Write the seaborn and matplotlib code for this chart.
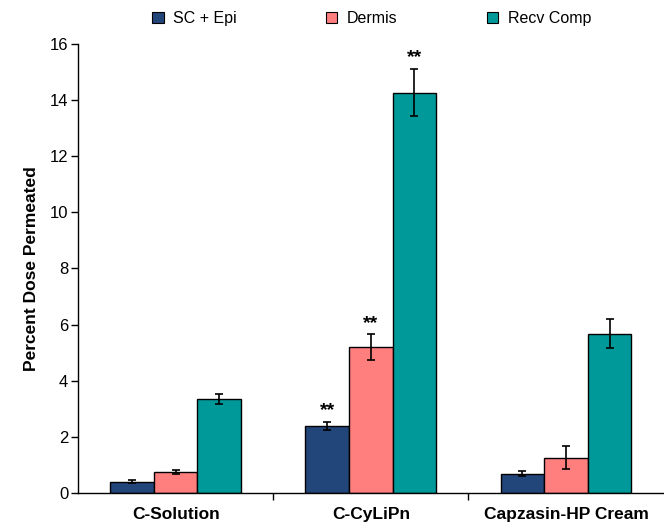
import seaborn as sns
import matplotlib.pyplot as plt
import pandas as pd
from matplotlib.patches import Patch
from matplotlib.ticker import FixedLocator

# values
formulations = ['C-Solution', 'C-CyLiPn', 'Capzasin-HP Cream']
layers = ['SC + Epi', 'Dermis', 'Recv Comp']
sc_epi = [0.40, 2.40, 0.68]
dermis = [0.74, 5.20, 1.26]
recv_comp = [3.34, 14.27, 5.68]
sc_epi_err = [0.06, 0.14, 0.09]
dermis_err = [0.08, 0.45, 0.40]
recv_comp_err = [0.18, 0.85, 0.52]
# significance markers (per layer, per formulation)
stars = [['', '**', ''], ['', '**', ''], ['', '**', '']]

colors = ['#23467A', '#FF7F7F', '#009999']

values = [sc_epi, dermis, recv_comp]
errors = [sc_epi_err, dermis_err, recv_comp_err]
rows = []
for layer, vals in zip(layers, values):
    for form, v in zip(formulations, vals):
        rows.append({'Formulation': form, 'Layer': layer, 'Percent': v})
df = pd.DataFrame(rows)

sns.set_style('white')
plt.rcParams['font.family'] = ['Liberation Sans', 'DejaVu Sans']
plt.rcParams['text.color'] = 'black'
plt.rcParams['axes.labelcolor'] = 'black'
plt.rcParams['xtick.color'] = 'black'
plt.rcParams['ytick.color'] = 'black'

fig = plt.figure(figsize=(6.64, 5.30), dpi=100)
ax = fig.add_axes([0.1175, 0.0698, 0.882, 0.8472])

sns.barplot(data=df, x='Formulation', y='Percent', hue='Layer', order=formulations,
            hue_order=layers, palette=colors, errorbar=None, width=0.67, gap=0,
            edgecolor='black', linewidth=1.0, saturation=1, legend=False, ax=ax)

for cont, errs, marks in zip(ax.containers, errors, stars):
    for bar, e, m in zip(cont, errs, marks):
        xc = bar.get_x() + bar.get_width() / 2
        h = bar.get_height()
        ax.errorbar(xc, h, yerr=e, fmt='none', ecolor='black', elinewidth=1.2,
                    capsize=3, capthick=1.2, zorder=5)
        if m:
            ax.text(xc, h + e + 0.1, m, ha='center', va='bottom',
                    fontsize=14, fontweight='bold')

ax.set_xlim(-0.5, 2.5)
ax.set_ylim(0, 16)
ax.set_yticks(range(0, 17, 2))
ax.tick_params(axis='y', direction='out', length=5, width=1, left=True,
               labelsize=12, pad=2)
ax.tick_params(axis='x', which='major', length=0, labelsize=12.5, pad=10)
ax.xaxis.set_minor_locator(FixedLocator([0.5, 1.5]))
ax.tick_params(axis='x', which='minor', direction='out', length=5, width=1, bottom=True)
for lab in ax.get_xticklabels():
    lab.set_fontweight('bold')
ax.set_xlabel('')
ax.set_ylabel('Percent Dose Permeated', fontsize=12.5, fontweight='bold', labelpad=8)

for side in ['top', 'right']:
    ax.spines[side].set_visible(False)
for side in ['left', 'bottom']:
    ax.spines[side].set_color('black')
    ax.spines[side].set_linewidth(1)

handles = [Patch(facecolor=c, edgecolor='black', linewidth=0.8) for c in colors]
fig.legend(handles, layers, loc='center', bbox_to_anchor=(0.56, 0.965), ncol=3,
           frameon=False, fontsize=11.5, handlelength=0.7, handleheight=0.7,
           handletextpad=0.6, columnspacing=5.6)

fig.savefig('out.png', dpi=100)
